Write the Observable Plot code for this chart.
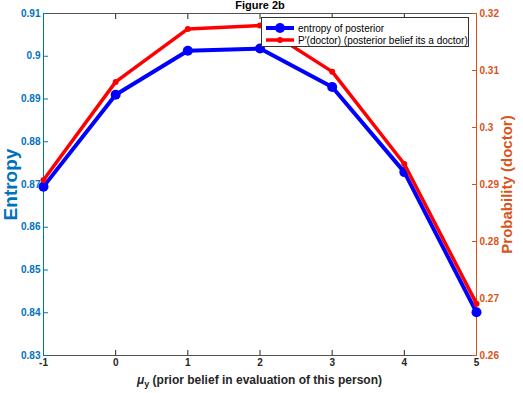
<!DOCTYPE html>
<html><head><meta charset="utf-8">
<script src="https://cdn.jsdelivr.net/npm/d3@7"></script>
<script src="https://cdn.jsdelivr.net/npm/@observablehq/plot@0.6"></script>
<style>
body{margin:0;background:#fff;}
#wrap{position:relative;width:523px;height:393px;font-family:"Liberation Sans",Arial,sans-serif;}
#legend{position:absolute;left:261px;top:17px;width:206px;height:28px;border:1px solid #333;background:#fff;font-size:10px;color:#000;}
#legend .row{position:absolute;left:4px;height:12px;display:flex;align-items:center;}
#legend svg{display:block;margin-right:4px;}
#xlabel{position:absolute;left:0;width:519px;top:373px;text-align:center;font-size:12px;font-weight:bold;color:#262626;}
#xlabel sub{font-size:9px;vertical-align:-3px;}
</style></head>
<body><div id="wrap"></div>
<script>
const muY = [-1, 0, 1, 2, 3, 4, 5];
const entropy = [0.8695, 0.8910, 0.9013, 0.9018, 0.8928, 0.8729, 0.8401];
const pDoctor = [0.2908, 0.3080, 0.3173, 0.3179, 0.3098, 0.2936, 0.2691];
const xTicks = [-1, 0, 1, 2, 3, 4, 5];
const leftTicks = [0.83, 0.84, 0.85, 0.86, 0.87, 0.88, 0.89, 0.9, 0.91];
const rightTicks = [0.26, 0.27, 0.28, 0.29, 0.3, 0.31, 0.32];
const seriesNames = ["entropy of posterior", "P'(doctor) (posterior belief its a doctor)"];
const title = "Figure 2b";
const yLabelLeft = "Entropy";
const yLabelRight = "Probability (doctor)";

const BLUE = "#0000ff", RED = "#ff0000", AXL = "#0072BD", AXR = "#D95319", AXK = "#262626";
const leftDomain = [0.83, 0.91], rightDomain = [0.26, 0.32];
const toLeft = d3.scaleLinear().domain(rightDomain).range(leftDomain);

const data = muY.map((m, i) => ({m, e: entropy[i], p: toLeft(pDoctor[i])}));

const chart = Plot.plot({
  width: 523, height: 393,
  marginLeft: 43, marginRight: 47, marginTop: 13, marginBottom: 38,
  style: {fontFamily: '"Liberation Sans", Arial, sans-serif', background: "#fff"},
  x: {domain: [xTicks[0], xTicks[xTicks.length - 1]]},
  y: {domain: leftDomain},
  marks: [
    Plot.frame({stroke: AXK, strokeOpacity: 0.8}),
    Plot.axisX(xTicks, {anchor: "bottom", tickSize: -5, tickPadding: 8, tickFormat: d => `${d}`, fontSize: 10, fontWeight: "bold", color: AXK, label: null}),
    Plot.axisX(xTicks, {anchor: "top", tickSize: -5, tickFormat: () => "", color: AXK, label: null}),
    Plot.axisY(leftTicks, {anchor: "left", tickSize: -5, tickPadding: 8, tickFormat: d => `${d}`, fontSize: 10, fontWeight: "bold", color: AXL, label: null}),
    Plot.axisY(rightTicks.map(toLeft), {anchor: "right", tickSize: -5, tickPadding: 8, tickFormat: d => `${+toLeft.invert(d).toFixed(2)}`, fontSize: 10, fontWeight: "bold", color: AXR, label: null}),
    Plot.ruleX([xTicks[0]], {stroke: AXL}),
    Plot.ruleX([xTicks[xTicks.length - 1]], {stroke: AXR}),
    Plot.line(data, {x: "m", y: "e", stroke: BLUE, strokeWidth: 4}),
    Plot.dot(data, {x: "m", y: "e", r: 5, fill: BLUE, stroke: null}),
    Plot.line(data, {x: "m", y: "p", stroke: RED, strokeWidth: 3.5}),
    Plot.dot(data, {x: "m", y: "p", r: 3, fill: RED, stroke: null}),
    Plot.text([title], {frameAnchor: "top", dy: -8, lineAnchor: "middle", fontSize: 11, fontWeight: "bold", fill: "#000"}),
    Plot.text([yLabelLeft], {frameAnchor: "left", rotate: -90, dx: -33, textAnchor: "middle", lineAnchor: "middle", fontSize: 19, fontWeight: "bold", fill: AXL}),
    Plot.text([yLabelRight], {frameAnchor: "right", rotate: -90, dx: 31, textAnchor: "middle", lineAnchor: "middle", fontSize: 15, fontWeight: "bold", fill: AXR})
  ]
});
const wrap = document.getElementById("wrap");
wrap.appendChild(chart);

const leg = document.createElement("div");
leg.id = "legend";
leg.innerHTML = `
<div class="row" style="top:4px"><svg width="28" height="12"><line x1="0" y1="6" x2="28" y2="6" stroke="${BLUE}" stroke-width="4"/><circle cx="14" cy="6" r="5" fill="${BLUE}"/></svg><span>${seriesNames[0]}</span></div>
<div class="row" style="top:16px"><svg width="28" height="12"><line x1="0" y1="6" x2="28" y2="6" stroke="${RED}" stroke-width="3.5"/><circle cx="14" cy="6" r="3" fill="${RED}"/></svg><span>${seriesNames[1]}</span></div>`;
wrap.appendChild(leg);

const xl = document.createElement("div");
xl.id = "xlabel";
xl.innerHTML = `<i>&mu;</i><sub>y</sub> (prior belief in evaluation of this person)`;
wrap.appendChild(xl);
</script>
</body></html>
